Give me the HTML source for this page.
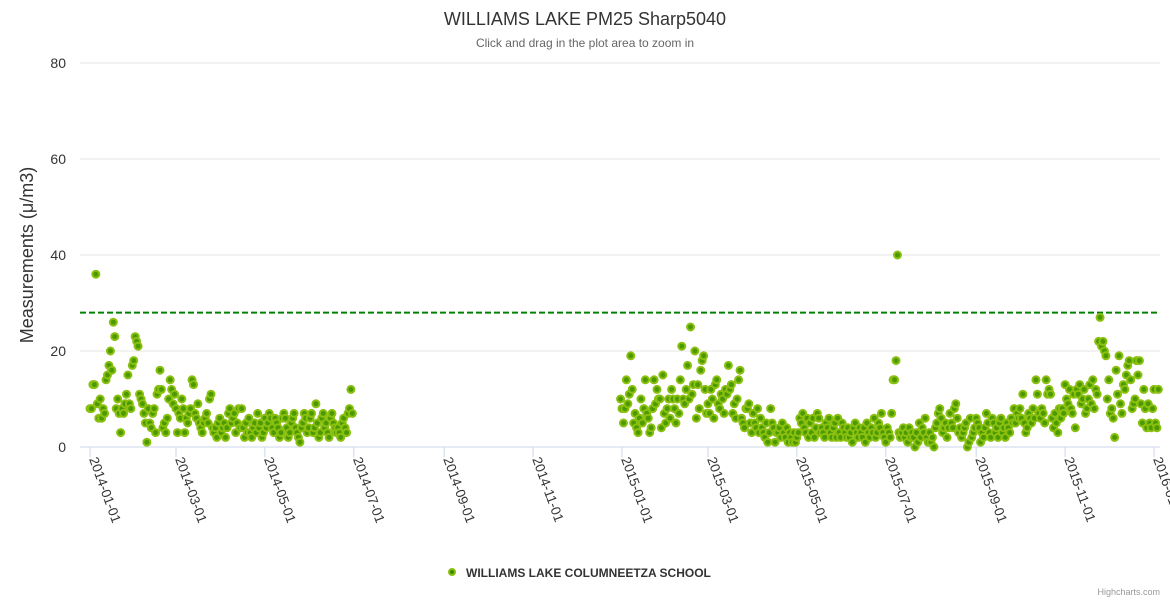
<!DOCTYPE html>
<html><head><meta charset="utf-8"><style>
body{margin:0;background:#fff;font-family:"Liberation Sans",Arial,sans-serif}
svg text{font-family:"Liberation Sans",Arial,sans-serif}
</style></head><body>
<svg id="chart" width="1170" height="600" xmlns="http://www.w3.org/2000/svg">
<text x="585" y="25" text-anchor="middle" font-size="18" fill="#333">WILLIAMS LAKE PM25 Sharp5040</text>
<text x="585" y="47" text-anchor="middle" font-size="12" fill="#666">Click and drag in the plot area to zoom in</text>
<text transform="translate(33,255) rotate(-90)" text-anchor="middle" font-size="18" fill="#333">Measurements (μ/m3)</text>
<g id="grid"></g><g id="xaxis"></g><g id="marks"></g>
<g>
<circle cx="452" cy="572" r="3" fill="#3d8c00" stroke="#8bbf10" stroke-width="2"/>
<text x="466" y="577" font-size="12" font-weight="bold" fill="#333">WILLIAMS LAKE COLUMNEETZA SCHOOL</text>
</g>
<text x="1160" y="595" text-anchor="end" font-size="9" fill="#999">Highcharts.com</text>
</svg>
<script>
const yTicks=[0,20,40,60,80];
const xTickLabels=["2014-01-01","2014-03-01","2014-05-01","2014-07-01","2014-09-01","2014-11-01","2015-01-01","2015-03-01","2015-05-01","2015-07-01","2015-09-01","2015-11-01","2016-01-01"];
const thresholdValue=28;
const series1Start="2014-01-01";
const series1Values=[8,8,13,13,36,9,6,10,6,8,7,14,15,17,20,16,26,23,8,10,7,3,8,7,9,11,15,9,8,17,18,
23,22,21,11,10,9,7,5,1,8,5,4,7,8,3,11,12,16,12,4,5,3,6,10,14,12,9,11,
8,3,7,6,10,8,3,6,5,7,8,14,13,7,6,9,5,4,3,5,6,7,5,10,11,4,3,4,2,5,6,
3,4,5,2,4,7,8,5,6,7,3,5,8,4,8,4,2,5,3,6,3,2,4,5,3,7,4,5,2,3,
6,4,5,7,6,4,3,6,5,4,2,3,6,7,6,4,2,3,5,6,7,4,3,2,1,4,5,7,6,3,4,
6,7,3,4,9,5,2,3,6,7,4,5,3,2,6,7,5,4,3,4,3,2,5,6,4,3,7,8,12,7];
const series2Start="2014-12-31";
const series2Values=[10,8,5,8,14,9,11,19,12,5,7,4,3,6,10,5,8,14,7,6,3,4,8,14,9,12,10,10,4,15,7,
5,8,10,6,12,10,8,5,10,7,14,21,10,9,12,17,10,25,11,13,20,6,13,8,16,18,19,12,7,9,7,12,10,6,13,14,9,8,11,10,7,12,
11,17,12,13,7,9,6,10,14,16,6,5,4,8,8,9,5,3,7,5,4,8,3,6,4,3,2,5,1,3,8,
5,4,1,3,3,4,2,5,3,2,4,1,3,2,1,3,1,2,3,6,5,7,4,3,6,2,5,3,6,2,
4,7,6,3,4,3,2,5,4,6,3,2,4,5,2,6,3,2,5,4,3,2,4,2,3,1,4,5,3,2,4,
3,2,4,1,5,3,2,4,3,6,2,3,5,4,7,3,2,1,4,3,2,7,14,14,18,40,3,2,3,4,
2,3,1,4,2,3,2,0,3,1,5,2,4,3,6,2,1,3,1,2,0,4,5,7,8,6,3,4,5,2,4,
7,5,4,8,9,6,3,4,2,3,4,5,0,1,6,2,3,4,6,5,4,1,3,2,4,7,5,3,2,6,5,3,4,2,5,6,3,4,2,5,
4,3,6,5,8,5,7,6,8,6,11,5,3,4,7,6,5,8,6,14,11,7,6,8,7,5,14,11,12,11,6,4,7,5,3,8,
6,8,7,13,10,9,12,8,7,11,4,12,11,13,9,10,12,7,8,10,13,9,14,8,12,11,22,27,21,22,20,
19,10,14,7,8,6,2,16,11,19,9,7,13,12,15,17,18,14,8,9,10,18,15,18,9,5,12,8,4,9,5,4,8,12,5,4,12];
const NS="http://www.w3.org/2000/svg";
const x0=Date.UTC(2014,0,1),x1=Date.UTC(2016,0,1);
const px0=90,px1=1154,plotL=80,plotR=1160,yBase=447,yTop=63,yMax=80;
function xs(t){return px0+(t-x0)/(x1-x0)*(px1-px0);}
function ys(v){return yBase-v/yMax*(yBase-yTop);}
function mk(tag,attrs,parent){const e=document.createElementNS(NS,tag);for(const k in attrs)e.setAttribute(k,attrs[k]);parent.appendChild(e);return e;}
const grid=document.getElementById('grid'),xa=document.getElementById('xaxis'),marks=document.getElementById('marks');
yTicks.forEach(v=>{
  const l=mk('line',{x1:plotL,x2:plotR,y1:ys(v),y2:ys(v),stroke:v===0?'#ccd6eb':'#e6e6e6','stroke-width':1},grid);
  
  
  const t=mk('text',{x:66,y:ys(v)+5,'text-anchor':'end','font-size':14,fill:'#333'},grid);
  t.textContent=v;
  
  
});
xTickLabels.forEach(s=>{
  const p=s.split('-');const x=xs(Date.UTC(+p[0],+p[1]-1,+p[2]));
  const tk=mk('line',{x1:x,x2:x,y1:yBase,y2:yBase+10,stroke:'#ccd6eb'},xa);
  
  
  const t=mk('text',{transform:`translate(${x-1},${yBase+12}) rotate(70)`,'font-size':13.5,fill:'#333'},xa);
  t.textContent=s;
  
  
});
const th=mk('line',{x1:plotL,x2:plotR,y1:ys(thresholdValue),y2:ys(thresholdValue),stroke:'#008000','stroke-width':2,'stroke-dasharray':'6,3'},grid);


function plot(start,vals){
  const p=start.split('-');const t0=Date.UTC(+p[0],+p[1]-1,+p[2]);
  vals.forEach((v,i)=>{
    const c=mk('circle',{cx:xs(t0+i*86400000),cy:ys(v),r:3.5,fill:'#4a9a00',stroke:'#8bbf10','stroke-width':2},marks);
    
    
  });
}
plot(series1Start,series1Values);
plot(series2Start,series2Values);
</script>
</body></html>
